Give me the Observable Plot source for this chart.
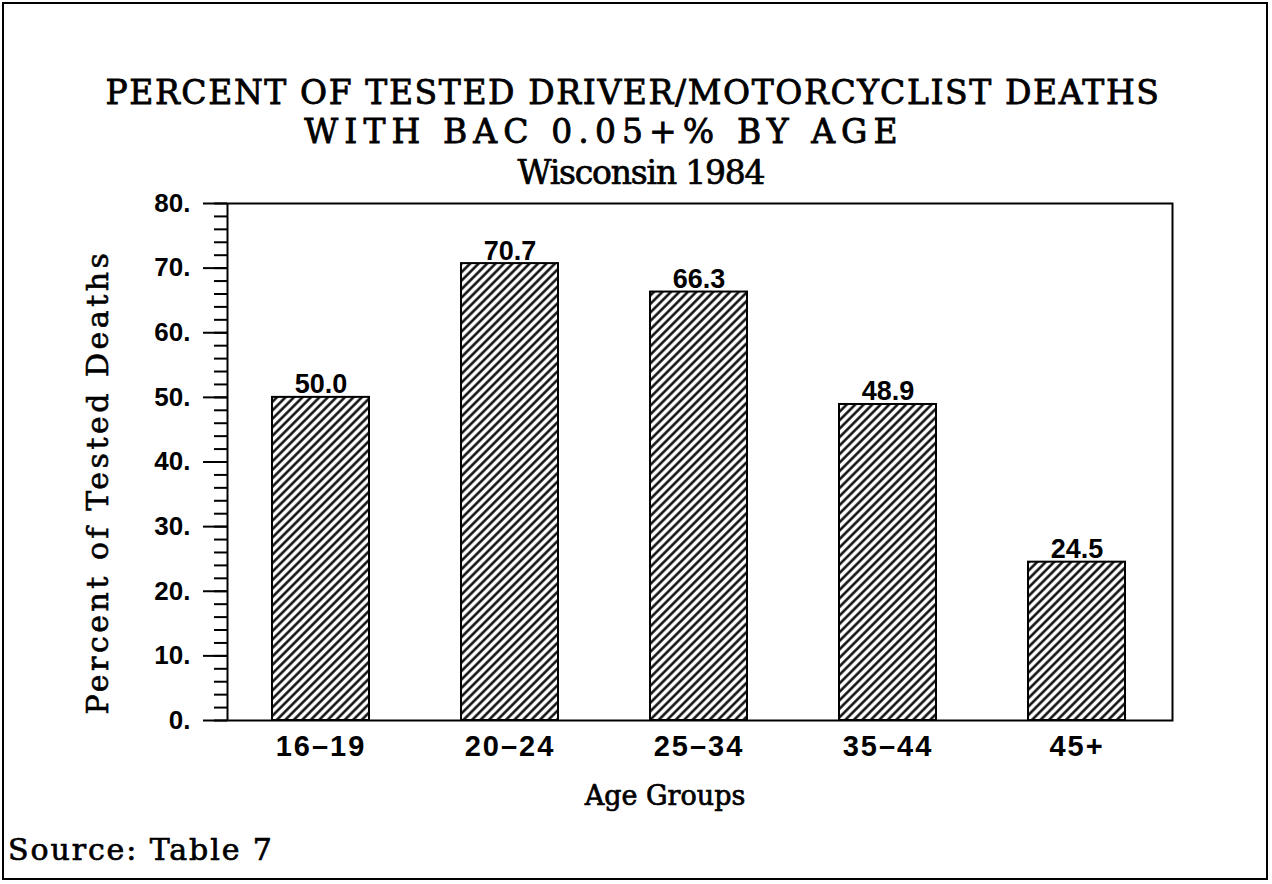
<!DOCTYPE html>
<html><head><meta charset="utf-8">
<script src="https://cdn.jsdelivr.net/npm/d3@7"></script>
<script src="https://cdn.jsdelivr.net/npm/@observablehq/plot@0.6"></script>
<style>
body{margin:0;background:#fff;}
#page{position:relative;width:1272px;height:884px;overflow:hidden;background:#fff;}
#border{position:absolute;left:2px;top:2px;width:1266px;height:878px;border:2px solid #000;box-sizing:border-box;z-index:2;pointer-events:none;}
.t{position:absolute;white-space:nowrap;font-family:"DejaVu Serif";color:#000;line-height:0.9;-webkit-text-stroke:0.7px #000;}
.c{transform:translateX(-50%);}
#title{position:absolute;left:0;top:74px;width:1272px;text-align:center;font-family:"DejaVu Serif";font-size:33px;line-height:38.5px;white-space:nowrap;-webkit-text-stroke:0.8px #000;}
#title span{display:block;position:relative;}
#chart{position:absolute;left:0;top:180px;}
#chart svg{background:transparent;}
#chart svg g[aria-label="x-axis tick label"] text{letter-spacing:2px;}
#chart svg g.ylab text{letter-spacing:3.5px;stroke:#000;stroke-width:0.6px;}
</style></head><body>
<div id="page">
  <div id="border"></div>
  <div id="title"><span style="left:-3px;letter-spacing:1.6px;">PERCENT OF TESTED DRIVER/MOTORCYCLIST DEATHS</span><span style="left:-32px;letter-spacing:6.1px;">WITH BAC 0.05+% BY AGE</span></div>
  <div class="t c" id="t3" style="left:641px;top:158px;font-size:33px;letter-spacing:-1.2px;">Wisconsin 1984</div>
  <div id="chart"></div>
  <div class="t c" id="xl" style="left:665px;top:784px;font-size:27px;">Age Groups</div>
  <div class="t" id="src" style="left:8px;top:836px;font-size:30px;letter-spacing:1.9px;">Source: Table 7</div>
</div>
<script>
const ageGroups = ["16\u201319", "20\u201324", "25\u201334", "35\u201344", "45+"];
const percents = [50.0, 70.7, 66.3, 48.9, 24.5];
const yMajorTicks = [0, 10, 20, 30, 40, 50, 60, 70, 80];
const yMinorTicks = d3.range(0, 81, 2);
const yAxisLabel = "Percent of Tested Deaths";

const data = ageGroups.map((g, i) => ({group: g, pct: percents[i]}));

const plot = Plot.plot({
  width: 1272,
  height: 600,
  marginTop: 23,
  marginBottom: 60,
  marginLeft: 227,
  marginRight: 100,
  style: {fontFamily: "Liberation Sans", background: "transparent", color: "black", overflow: "visible"},
  x: {domain: ageGroups, range: [270, 1126], paddingInner: 0.489, paddingOuter: 0, label: null},
  y: {domain: [0, 80], label: null},
  marks: [
    Plot.barY(data, {x: "group", y: "pct", fill: "url(#hatch)", stroke: "black", strokeWidth: 2}),
    Plot.frame({stroke: "black", strokeWidth: 2}),
    Plot.axisY({ticks: yMinorTicks, tickSize: 13, text: null, strokeWidth: 2, label: null}),
    Plot.axisY({ticks: yMajorTicks, tickSize: 24, tickPadding: 13, tickFormat: d => d + ".", fontSize: 26, fontWeight: "bold", strokeWidth: 2, label: null}),
    Plot.axisX({tickSize: 0, tickPadding: 15, fontSize: 29, fontWeight: "bold", label: null}),
    Plot.text(data, {x: "group", y: "pct", text: d => d.pct.toFixed(1), dy: -4, lineAnchor: "bottom", fontSize: 27, fontWeight: "bold"}),
    Plot.text([yAxisLabel], {frameAnchor: "left", rotate: -90, dx: -129, dy: 20, fontSize: 30, fontFamily: "DejaVu Serif", textAnchor: "middle", lineAnchor: "middle", className: "ylab"})
  ]
});

d3.select(plot).insert("defs", ":first-child").html(
  '<pattern id="hatch" patternUnits="userSpaceOnUse" width="6" height="6" patternTransform="rotate(45)">' +
  '<rect width="6" height="6" fill="white"/>' +
  '<line x1="1.5" y1="-1" x2="1.5" y2="7" stroke="black" stroke-width="2.4"/></pattern>'
);
document.getElementById("chart").appendChild(plot);
</script>
</body></html>
